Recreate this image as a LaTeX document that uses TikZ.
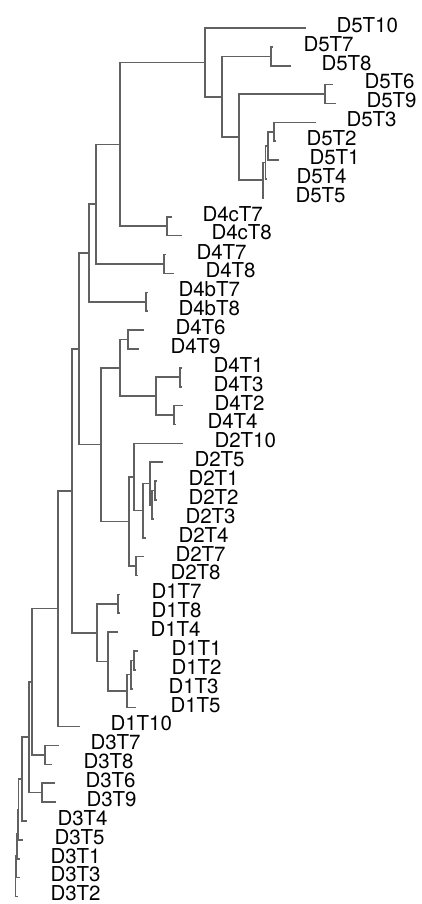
\documentclass[tikz,border=0pt]{standalone}
\usepackage{fontspec}
\setmainfont{TeX Gyre Heros}
\usetikzlibrary{calc}
\tikzset{
  br/.style={draw=black!62, line width=1.6pt},
  lab/.style={anchor=west, inner sep=0pt, outer sep=0pt, text=black, font=\fontsize{20.5}{24}\selectfont}
}
\newcommand\leaf[5]{%
  \coordinate (#1) at ({#2},{28+18.88*#3});
  \node[lab] (#1l) at ({#4-1.5},{28+18.88*#3-3}) {#5};}
\newcommand\inode[4]{%
  \coordinate (tmp) at ($(#3)!0.5!(#4)$);
  \coordinate (#1) at (#2,0 |- tmp);
  \draw[br] (#3) -| (#1) |- (#4);}
\begin{document}
\begin{tikzpicture}[x=1pt,y=-1pt]
\useasboundingbox (0,0) rectangle (422,904);
% leaves: name, tip x, index, label x, text
\leaf{D5T10}{306}{0}{338}{D5T10}
\leaf{D5T7}{273}{1}{305}{D5T7}
\leaf{D5T8}{291}{2}{323}{D5T8}
\leaf{D5T6}{333}{3}{366}{D5T6}
\leaf{D5T9}{336}{4}{368}{D5T9}
\leaf{D5T3}{316}{5}{348}{D5T3}
\leaf{D5T2}{276}{6}{308}{D5T2}
\leaf{D5T1}{279}{7}{311}{D5T1}
\leaf{D5T4}{266.5}{8}{298}{D5T4}
\leaf{D5T5}{264}{9}{297}{D5T5}
\leaf{D4cT7}{172}{10}{204}{D4cT7}
\leaf{D4cT8}{182}{11}{213}{D4cT8}
\leaf{D4T7}{166}{12}{198}{D4T7}
\leaf{D4T8}{174}{13}{207}{D4T8}
\leaf{D4bT7}{147.5}{14}{180}{D4bT7}
\leaf{D4bT8}{147.5}{15}{180}{D4bT8}
\leaf{D4T6}{144}{16}{177}{D4T6}
\leaf{D4T9}{139}{17}{172}{D4T9}
\leaf{D4T1}{182}{18}{215}{D4T1}
\leaf{D4T3}{182}{19}{215}{D4T3}
\leaf{D4T2}{183}{20}{216}{D4T2}
\leaf{D4T4}{176}{21}{209}{D4T4}
\leaf{D2T10}{183}{22}{216}{D2T10}
\leaf{D2T5}{163}{23}{196}{D2T5}
\leaf{D2T1}{157}{24}{190}{D2T1}
\leaf{D2T2}{156.5}{25}{190}{D2T2}
\leaf{D2T3}{153.5}{26}{187}{D2T3}
\leaf{D2T4}{146}{27}{180}{D2T4}
\leaf{D2T7}{144}{28}{177}{D2T7}
\leaf{D2T8}{137.5}{29}{172}{D2T8}
\leaf{D1T7}{119.5}{30}{153}{D1T7}
\leaf{D1T8}{119.5}{31}{153}{D1T8}
\leaf{D1T4}{118}{32}{152}{D1T4}
\leaf{D1T1}{138}{33}{173}{D1T1}
\leaf{D1T2}{135.5}{34}{173}{D1T2}
\leaf{D1T3}{133}{35}{170}{D1T3}
\leaf{D1T5}{136}{36}{172}{D1T5}
\leaf{D1T10}{80}{37}{112}{D1T10}
\leaf{D3T7}{59}{38}{92}{D3T7}
\leaf{D3T8}{52}{39}{85}{D3T8}
\leaf{D3T6}{55}{40}{87}{D3T6}
\leaf{D3T9}{56}{41}{88}{D3T9}
\leaf{D3T4}{27}{42}{59}{D3T4}
\leaf{D3T5}{23}{43}{56}{D3T5}
\leaf{D3T1}{20}{44}{52}{D3T1}
\leaf{D3T3}{20}{45}{52}{D3T3}
\leaf{D3T2}{18}{46}{52}{D3T2}
% internal nodes: name, x, child1, child2
\inode{a5}{274}{D5T3}{D5T2}
\inode{b5}{268}{a5}{D5T1}
\inode{c5}{265.5}{b5}{D5T4}
\inode{f5}{263}{c5}{D5T5}
\inode{e5}{325}{D5T6}{D5T9}
\inode{d5}{239}{e5}{f5}
\inode{g5}{271}{D5T7}{D5T8}
\inode{h5}{222}{g5}{d5}
\inode{r5}{205}{D5T10}{h5}
\inode{c4}{167}{D4cT7}{D4cT8}
\inode{ng}{120}{r5}{c4}
\inode{n78}{164}{D4T7}{D4T8}
\inode{nh}{96}{ng}{n78}
\inode{b4}{146}{D4bT7}{D4bT8}
\inode{ni}{89}{nh}{b4}
\inode{n69}{128}{D4T6}{D4T9}
\inode{n13}{180}{D4T1}{D4T3}
\inode{n24}{174}{D4T2}{D4T4}
\inode{n1234}{156}{n13}{n24}
\inode{nk}{120}{n69}{n1234}
\inode{p2}{155}{D2T1}{D2T2}
\inode{q2}{152}{p2}{D2T3}
\inode{s2}{150}{D2T5}{q2}
\inode{t2}{143}{s2}{D2T4}
\inode{u2}{134}{D2T10}{t2}
\inode{v2}{136}{D2T7}{D2T8}
\inode{d2}{129}{u2}{v2}
\inode{nj}{101}{nk}{d2}
\inode{nl}{79}{ni}{nj}
\inode{d78}{118}{D1T7}{D1T8}
\inode{r1}{134}{D1T1}{D1T2}
\inode{s1}{131}{r1}{D1T3}
\inode{t1}{127}{s1}{D1T5}
\inode{w1}{108}{D1T4}{t1}
\inode{d1}{97}{d78}{w1}
\inode{nm}{72}{nl}{d1}
\inode{nn}{58}{nm}{D1T10}
\inode{e78}{45}{D3T7}{D3T8}
\inode{no}{32}{nn}{e78}
\inode{e69}{42}{D3T6}{D3T9}
\inode{np}{29}{no}{e69}
\inode{x1}{22}{np}{D3T4}
\inode{x2}{18.5}{x1}{D3T5}
\inode{x3}{17.5}{x2}{D3T1}
\inode{x4}{16.5}{x3}{D3T3}
\inode{x5}{15.5}{x4}{D3T2}
\end{tikzpicture}
\end{document}
